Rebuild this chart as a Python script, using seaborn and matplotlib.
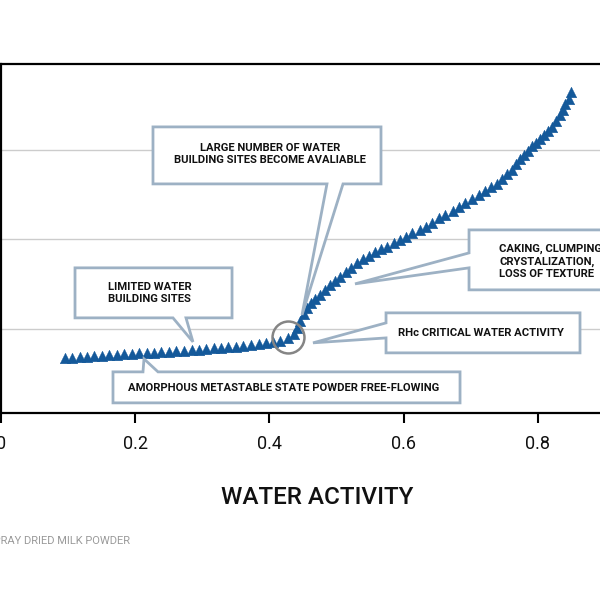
import matplotlib
matplotlib.use('Agg')
import matplotlib.pyplot as plt
from matplotlib.patches import Polygon
import seaborn as sns
import pandas as pd

# water activity (x) and moisture uptake (y)
water_activity = [
    0.095, 0.106, 0.117, 0.128, 0.139, 0.150, 0.161, 0.173, 0.184, 0.195,
    0.206, 0.217, 0.228, 0.239, 0.250, 0.261, 0.273, 0.284, 0.295, 0.306,
    0.317, 0.328, 0.339, 0.350, 0.361, 0.373, 0.384, 0.395, 0.406, 0.416,
    0.427, 0.436, 0.441, 0.446, 0.452, 0.456, 0.462, 0.468, 0.476, 0.483,
    0.490, 0.498, 0.505, 0.514, 0.521, 0.530, 0.539, 0.548, 0.557, 0.566,
    0.575, 0.585, 0.594, 0.603, 0.613, 0.624, 0.634, 0.643, 0.653, 0.662,
    0.673, 0.683, 0.692, 0.702, 0.713, 0.721, 0.730, 0.739, 0.747, 0.754,
    0.761, 0.767, 0.773, 0.779, 0.785, 0.791, 0.797, 0.803, 0.809, 0.815,
    0.821, 0.827, 0.833, 0.837, 0.841, 0.846, 0.850,
]
moisture = [
    6.76, 6.80, 6.85, 6.89, 6.94, 6.98, 7.04, 7.09, 7.14, 7.18,
    7.25, 7.30, 7.35, 7.40, 7.45, 7.51, 7.56, 7.62, 7.68, 7.75,
    7.82, 7.88, 7.96, 8.01, 8.10, 8.19, 8.29, 8.38, 8.49, 8.66,
    8.94, 9.39, 10.11, 10.89, 11.68, 12.35, 12.91, 13.35, 13.80, 14.36,
    14.92, 15.36, 15.81, 16.37, 16.82, 17.37, 17.82, 18.16, 18.60, 18.94,
    19.16, 19.61, 19.94, 20.28, 20.73, 21.06, 21.40, 21.84, 22.40, 22.74,
    23.18, 23.63, 24.08, 24.53, 24.97, 25.42, 25.87, 26.20, 26.76, 27.32,
    27.77, 28.44, 28.99, 29.44, 29.89, 30.45, 30.78, 31.23, 31.68, 32.12,
    32.57, 33.24, 33.91, 34.47, 35.14, 35.70, 36.48,
]

x_ticks = [0.0, 0.2, 0.4, 0.6, 0.8]
x_tick_labels = ['0', '0.2', '0.4', '0.6', '0.8']
y_grid = [10, 20, 30]

label_large = 'LARGE NUMBER OF WATER\nBUILDING SITES BECOME AVALIABLE'
label_limited = 'LIMITED WATER\nBUILDING SITES'
label_amorphous = 'AMORPHOUS METASTABLE STATE POWDER FREE-FLOWING'
label_rhc = 'RHc CRITICAL WATER ACTIVITY'
label_caking = 'CAKING, CLUMPING\nCRYSTALIZATION,\nLOSS OF TEXTURE'
footnote = 'SPRAY DRIED MILK POWDER'

df = pd.DataFrame({'aw': water_activity, 'moisture': moisture})

sns.set_theme(style='white')
plt.rcParams['font.family'] = ['Roboto', 'DejaVu Sans']

BLUE = '#14599a'
BOX_EDGE = '#9db1c4'
TXT = '#111111'

fig = plt.figure(figsize=(6, 6), dpi=100)
# axes run off the right edge of the picture, like the cropped original
ax = fig.add_axes([1 / 600, 187 / 600, 671 / 600, 349 / 600])

sns.scatterplot(data=df, x='aw', y='moisture', ax=ax, marker='^', s=58,
                color=BLUE, edgecolor=BLUE, linewidth=0.3, zorder=3, legend=False)

ax.set_xlim(0, 1)
ax.set_ylim(0.6, 39.6)
ax.set_xticks(x_ticks)
ax.set_xticklabels(x_tick_labels)
ax.set_yticks(y_grid)
ax.set_yticklabels([])
ax.tick_params(axis='y', length=0)
ax.tick_params(axis='x', direction='out', length=7, width=1.5, color='black',
               pad=9, labelsize=13, labelcolor='#111111', bottom=True)
ax.grid(axis='y', color='#cccccc', linewidth=1)
ax.set_axisbelow(True)
for side in ['left', 'top', 'bottom', 'right']:
    ax.spines[side].set_color('black')
    ax.spines[side].set_linewidth(1.6)

ax.set_xlabel('WATER ACTIVITY', fontsize=17.5, fontweight='medium', color='#111111')
ax.xaxis.set_label_coords(0.471, -0.21)
ax.set_ylabel('')

# callout boxes with pointer tails
callouts = [
    [(0.2265, 32.57), (0.5663, 32.57), (0.5663, 26.20), (0.5097, 26.20),
     (0.4486, 11.56), (0.4858, 26.20), (0.2265, 26.20)],
    [(0.1103, 16.82), (0.3443, 16.82), (0.3443, 11.23), (0.2757, 11.23),
     (0.2861, 8.55), (0.2563, 11.23), (0.1103, 11.23)],
    [(0.1669, 5.196), (0.2116, 5.196), (0.2131, 6.648), (0.2340, 5.196),
     (0.6841, 5.196), (0.6841, 1.732), (0.1669, 1.732)],
    [(0.5738, 11.79), (0.8629, 11.79), (0.8629, 7.32), (0.5738, 7.32),
     (0.5738, 8.99), (0.4650, 8.44), (0.5738, 10.67)],
    [(0.6975, 21.06), (0.93, 21.06), (0.93, 14.36), (0.6975, 14.36),
     (0.6975, 16.82), (0.5276, 15.03), (0.6975, 18.49)],
]
for verts in callouts:
    ax.add_patch(Polygon(verts, closed=True, facecolor='white', edgecolor=BOX_EDGE,
                         linewidth=2, joinstyle='miter', zorder=4))

kw = dict(fontsize=8.1, fontweight='bold', color=TXT, zorder=5, linespacing=1.25)
ax.text(0.4009, 29.50, label_large, ha='center', va='center', multialignment='center', **kw)
ax.text(0.1595, 14.02, label_limited, ha='left', va='center', multialignment='left', **kw)
ax.text(0.4218, 3.41, label_amorphous, ha='center', va='center', **kw)
ax.text(0.7154, 9.55, label_rhc, ha='center', va='center', **kw)
ax.text(0.7422, 17.54, label_caking, ha='left', va='center', multialignment='left', **kw)

# critical point marker
ax.plot([0.428], [9.1], marker='o', markersize=23, markerfacecolor='none',
        markeredgecolor='#858585', markeredgewidth=1.8, zorder=6)

fig.text(-0.022, 0.098, footnote, fontsize=8, color='#9a9a9a', ha='left', va='center')

plt.savefig('out.png', dpi=100)
